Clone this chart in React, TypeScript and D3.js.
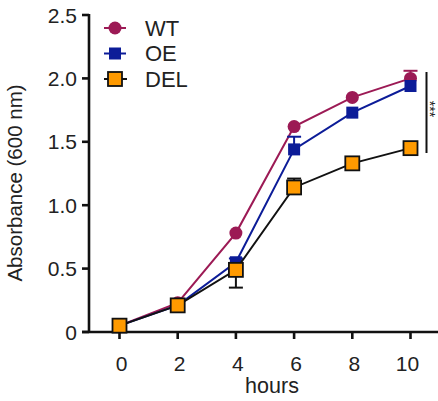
import React from 'react';
import * as d3 from 'd3';

// time points (hours)
const hours = [0, 2, 4, 6, 8, 10];
// absorbance at 600 nm
const wtValues = [0.05, 0.23, 0.78, 1.62, 1.85, 2.0];
const oeValues = [0.05, 0.21, 0.55, 1.44, 1.73, 1.94];
const delValues = [0.05, 0.21, 0.49, 1.14, 1.33, 1.45];
// visible error bar halves (+ up, - down)
const wtErr = [0, 0, 0, 0, 0, 0.06];
const oeErr = [0, 0, 0.03, 0.1, 0, 0];
const delErr = [0, 0, -0.14, 0.07, 0, 0];
const yTicks = [0, 0.5, 1.0, 1.5, 2.0, 2.5];
const legendNames = ['WT', 'OE', 'DEL'];

const WT_COLOR = '#9c1a55';
const OE_COLOR = '#0c1c98';
const DEL_FILL = '#ff9a00';
const FONT = '"Liberation Sans", Arial, sans-serif';

export default function App() {
    const x = d3.scaleLinear().domain([0, 10]).range([119.5, 410.5]);
    const y = d3.scaleLinear().domain([0, 2.5]).range([332, 15]);
    const line = d3.line<number>().x((d, i) => x(hours[i])).y(d => y(d));

    const series = [
        { name: 'WT', values: wtValues, err: wtErr, color: WT_COLOR },
        { name: 'OE', values: oeValues, err: oeErr, color: OE_COLOR },
        { name: 'DEL', values: delValues, err: delErr, color: '#111' },
    ];

    const marker = (name: string, cx: number, cy: number, key?: any) => {
        if (name === 'WT') return <circle key={key} cx={cx} cy={cy} r={6.5} fill={WT_COLOR} />;
        if (name === 'OE') return <rect key={key} x={cx - 6} y={cy - 6} width={12} height={12} fill={OE_COLOR} />;
        return <rect key={key} x={cx - 7} y={cy - 7} width={14} height={14} fill={DEL_FILL} stroke="#111" strokeWidth={1.8} />;
    };

    return (
        <svg width={438} height={401} style={{ position: 'absolute', left: 0, top: 0, fontFamily: FONT }}>
            {/* y axis */}
            <line x1={89} x2={89} y1={y(2.5) - 1} y2={y(0)} stroke="#111" strokeWidth={2.6} />
            {yTicks.map(t => (
                <g key={t}>
                    <line x1={82} x2={89} y1={y(t)} y2={y(t)} stroke="#111" strokeWidth={2.6} />
                    <text x={77} y={y(t)} dy="0.36em" textAnchor="end" fontSize={21} fill="#222">
                        {t === 0 ? '0' : t.toFixed(1)}
                    </text>
                </g>
            ))}
            <text transform="translate(22,183) rotate(-90)" textAnchor="middle" fontSize={20.5} fill="#222">
                Absorbance (600 nm)
            </text>
            {/* x axis */}
            <line x1={82} x2={438} y1={y(0)} y2={y(0)} stroke="#111" strokeWidth={2.6} />
            {hours.map(h => (
                <g key={h}>
                    <line x1={x(h)} x2={x(h)} y1={y(0)} y2={y(0) + 7} stroke="#111" strokeWidth={2.6} />
                    <text x={x(h) + (h === 10 ? -3 : 2)} y={363} dy="0.36em" textAnchor="middle" fontSize={21} fill="#222">{h}</text>
                </g>
            ))}
            <text x={272} y={385} dy="0.36em" textAnchor="middle" fontSize={21.5} fill="#222">hours</text>

            {/* series */}
            {series.map(s => (
                <g key={s.name}>
                    <path d={line(s.values) || ''} fill="none" stroke={s.color} strokeWidth={2} />
                    {s.values.map((v, i) => s.err[i] !== 0 ? (
                        <g key={'e' + i} stroke={s.color} strokeWidth={2}>
                            <line x1={x(hours[i])} x2={x(hours[i])} y1={y(v)} y2={y(v + s.err[i])} />
                            <line x1={x(hours[i]) - 7} x2={x(hours[i]) + 7} y1={y(v + s.err[i])} y2={y(v + s.err[i])} />
                        </g>
                    ) : null)}
                    {s.values.map((v, i) => marker(s.name, x(hours[i]), y(v), i))}
                </g>
            ))}

            {/* significance */}
            <line x1={426.5} x2={426.5} y1={72} y2={153} stroke="#111" strokeWidth={2} />
            <text transform="translate(424.5,109) rotate(90)" textAnchor="middle" fontSize={14} fill="#222">***</text>

            {/* legend */}
            {legendNames.map((n, i) => {
                const ly = 28 + i * 25.5;
                const c = n === 'WT' ? WT_COLOR : n === 'OE' ? OE_COLOR : '#111';
                return (
                    <g key={n}>
                        {n === 'DEL' ? (
                            <line x1={104} x2={127} y1={ly} y2={ly} stroke={c} strokeWidth={2} />
                        ) : (
                            <>
                                <line x1={104} x2={109} y1={ly} y2={ly} stroke={c} strokeWidth={2} />
                                <line x1={121} x2={126} y1={ly} y2={ly} stroke={c} strokeWidth={2} />
                            </>
                        )}
                        {marker(n, 115, ly)}
                        <text x={145} y={ly} dy="0.36em" fontSize={22} fill="#222">{n}</text>
                    </g>
                );
            })}
        </svg>
    );
}
